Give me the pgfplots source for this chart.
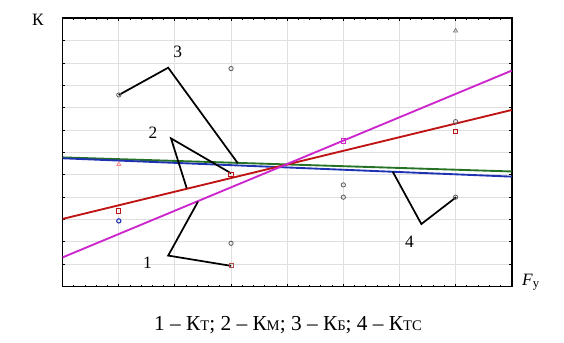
\documentclass[border=0pt]{standalone}
\usepackage{pgfplots}
\pgfplotsset{compat=1.18}
\usepackage{fontspec}
\setmainfont{Liberation Serif}
\definecolor{cmag}{rgb}{0.80,0.15,0.80}
\definecolor{cred}{rgb}{0.75,0.08,0.08}
\definecolor{cgreen}{rgb}{0.15,0.45,0.15}
\definecolor{cblue}{rgb}{0.12,0.20,0.70}
\begin{document}
\begin{tikzpicture}
\begin{axis}[
  scale only axis,
  width=336.8pt, height=201.3pt,
  xmin=0, xmax=8, ymin=0, ymax=12,
  xtick={0,...,8}, ytick={0,...,12},
  minor x tick num=4,
  xticklabels={}, yticklabels={},
  tick align=inside,
  major tick length=2pt, minor tick length=1.5pt,
  tick style={black, line width=0.7pt},
  grid=major,
  major grid style={gray!25, line width=0.7pt},
  axis line style={black, line width=1.2pt},
  clip=false,
]
% regression lines
\addplot[color=cgreen, line width=1.4pt] coordinates {(0,5.78) (8,5.15)};
\addplot[color=cblue, line width=1.4pt] coordinates {(0,5.74) (8,4.92)};
\addplot[color=cred, line width=1.4pt] coordinates {(0,3.03) (8,7.90)};
\addplot[color=cmag, line width=1.4pt] coordinates {(0,1.31) (8,9.66)};
% scatter points
\addplot[only marks, mark=o, mark size=1.6pt, gray!70!black, line width=0.6pt] coordinates {
  (1,8.57) (3,9.75) (3,1.94) (5,4.55) (5,4.0) (7,7.38) (7,4.0)};
\addplot[only marks, mark=triangle, mark size=1.8pt, red!45, line width=0.6pt] coordinates {(1,5.47)};
\addplot[only marks, mark=triangle, mark size=1.8pt, gray, line width=0.6pt] coordinates {(7,11.44)};
\addplot[only marks, mark=square, mark size=1.6pt, cred, line width=0.7pt] coordinates {(1,3.38) (3,5.02) (7,6.93)};
\addplot[only marks, mark=square, mark size=1.4pt, red!40!gray, line width=0.6pt] coordinates {(3,0.94)};
\addplot[only marks, mark=square, mark size=1.6pt, cmag, line width=0.7pt] coordinates {(5,6.51)};
\addplot[only marks, mark=o, mark size=1.6pt, cblue, line width=0.8pt] coordinates {(1,2.94)};
% annotation lines
\addplot[black, line width=1.3pt] coordinates {(1.0,8.57) (1.88,9.79) (3.12,5.52)};
\addplot[black, line width=1.3pt] coordinates {(3.0,5.07) (1.93,6.63) (2.21,4.40)};
\addplot[black, line width=1.3pt] coordinates {(2.41,3.80) (1.88,1.39) (3.0,0.93)};
\addplot[black, line width=1.3pt] coordinates {(5.88,5.14) (6.39,2.80) (7.01,4.0)};
\node[font=\fontsize{13}{15}\selectfont] at (axis cs:2.05,10.48) {3};
\node[font=\fontsize{13}{15}\selectfont] at (axis cs:1.61,6.86) {2};
\node[font=\fontsize{13}{15}\selectfont] at (axis cs:1.51,1.07) {1};
\node[font=\fontsize{13}{15}\selectfont] at (axis cs:6.18,2.01) {4};
\end{axis}
\node[font=\fontsize{13}{15}\selectfont] at (-18.5pt,200pt) {К};
\node[font=\fontsize{13}{15}\selectfont] at (351pt,3pt) {\textit{F}\raisebox{-0.25ex}{\fontsize{9.5}{10}\selectfont у}};
\node[font=\fontsize{16}{18}\selectfont] at (169pt,-28.7pt) {1 – К{\fontsize{11}{12}\selectfont Т}; 2 – К{\fontsize{11}{12}\selectfont М}; 3 – К{\fontsize{11}{12}\selectfont Б}; 4 – К{\fontsize{11}{12}\selectfont ТС}};
\pgfresetboundingbox
\path[use as bounding box] (-47pt,-42.2pt) rectangle (376pt,215pt);
\end{tikzpicture}
\end{document}
